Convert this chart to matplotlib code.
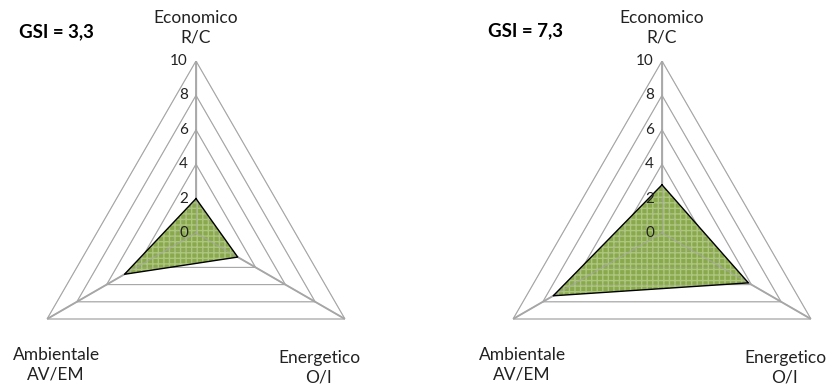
import numpy as np
import matplotlib
matplotlib.use("Agg")
import matplotlib.pyplot as plt

plt.rcParams['font.family'] = ['Lato', 'DejaVu Sans']

# Axis names (clockwise from the top) and the two scored scenarios
categories = ["Economico\nR/C", "Energetico\nO/I", "Ambientale\nAV/EM"]
scores_a = [2.0, 2.8, 4.8]
scores_b = [2.8, 5.8, 7.3]
gsi_labels = ["GSI = 3,3", "GSI = 7,3"]
rings = [0, 2, 4, 6, 8, 10]
ring_labels = ["0", "2", "4", "6", "8", "10"]

GRID = "#A6A6A6"
FILL = "#89A94C"
HATCH = "#ADC67F"

fig = plt.figure(figsize=(8.29, 3.91), dpi=100)
W, H = 829, 391
R_PX = 172

def add_radar(cx, cy, values, gsi, gsi_xy):
    ax = fig.add_axes([(cx - R_PX) / W, (H - cy - R_PX) / H, 2 * R_PX / W, 2 * R_PX / H],
                      projection="polar")
    ax.set_theta_offset(np.pi / 2)
    ax.set_theta_direction(-1)
    ax.set_ylim(0, 10)
    ax.grid(False)
    ax.set_xticks([])
    ax.set_yticks([])
    ax.spines["polar"].set_visible(False)
    ax.patch.set_alpha(0)

    n = len(categories)
    theta = np.arange(n) * 2 * np.pi / n
    tc = np.append(theta, theta[0])

    # triangular rings
    for r in rings[1:]:
        ax.plot(tc, [r] * (n + 1), color=GRID, lw=0.8, zorder=1)
    # spokes
    for t in theta:
        ax.plot([t, t], [0, 10], color=GRID, lw=1.3, zorder=1)

    vals = list(values) + [values[0]]
    ax.fill(tc, vals, color=FILL, lw=0, zorder=2)
    ax.fill(tc, vals, facecolor="none", edgecolor=HATCH, lw=0, hatch="+++", zorder=3)
    # spokes show through the fill
    for t in theta:
        ax.plot([t, t], [0, 10], color=GRID, lw=1.0, alpha=0.6, zorder=4)
    for r in rings[1:]:
        ax.plot(tc, [r] * (n + 1), color=GRID, lw=0.6, alpha=0.4, zorder=4)
    ax.plot(tc, vals, color="black", lw=1.0, zorder=5)

    for r, lab in zip(rings, ring_labels):
        ax.annotate(lab, xy=(0, r), xytext=(-8, 0), textcoords="offset pixels",
                    ha="right", va="center", fontsize=11, color="#222222",
                    annotation_clip=False, zorder=6)

    offsets = [(0, 33), (-26, -49), (9, -46)]
    for t, lab, off in zip(theta, categories, offsets):
        ax.annotate(lab, xy=(t, 10), xytext=off, textcoords="offset pixels",
                    ha="center", va="center", fontsize=12.5, color="#222222",
                    linespacing=1.25, annotation_clip=False)

    fig.text(gsi_xy[0] / W, 1 - gsi_xy[1] / H, gsi, fontsize=13.5, fontweight="bold",
             ha="left", va="center", color="black")

add_radar(196, 233, scores_a, gsi_labels[0], (19, 32))
add_radar(662, 233, scores_b, gsi_labels[1], (488, 31))

fig.savefig("out.png", dpi=100)
